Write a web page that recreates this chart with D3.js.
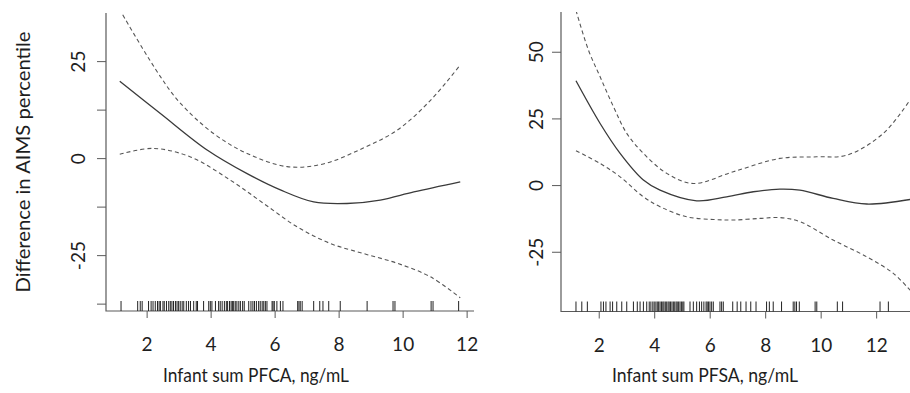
<!DOCTYPE html>
<html>
<head>
<meta charset="utf-8">
<script src="https://cdn.jsdelivr.net/npm/d3@7"></script>
<style>
  body { margin: 0; background: #fff; }
  svg { display: block; font-family: Lato, "Open Sans", sans-serif; }
</style>
</head>
<body>
<svg id="chart"></svg>
<script>
// ---- data ----
// left panel: infant sum PFCA
const pfcaFit = [[1.16, 19.8], [2.43, 11.5], [3.89, 2.1], [5.14, -4.0], [6.18, -8.2], [7.22, -11.3],
  [8.26, -11.7], [9.30, -10.8], [10.35, -8.7], [11.8, -6.1]];
const pfcaUpper = [[1.16, 38.5], [1.23, 37.3], [2.43, 21.0], [3.05, 14.2], [4.08, 6.4], [5.14, 1.2],
  [6.39, -2.2], [7.52, -1.5], [8.77, 2.6], [9.83, 7.2], [10.87, 14.9], [11.8, 24.0]];
const pfcaLower = [[1.16, 1.0], [2.2, 2.5], [3.37, 0.3], [4.62, -5.7], [5.66, -11.7], [6.70, -17.7],
  [7.74, -22.0], [8.78, -24.6], [9.83, -27.1], [10.87, -30.6], [11.8, -36.0]];
const pfcaRug = [1.20, 1.72, 1.80, 1.86, 2.06, 2.14, 2.20, 2.27, 2.34, 2.39, 2.43, 2.51, 2.55, 2.62,
  2.69, 2.74, 2.79, 2.84, 2.90, 2.95, 3.00, 3.05, 3.11, 3.16, 3.24, 3.31, 3.37, 3.47, 3.55, 3.59,
  3.78, 3.94, 3.99, 4.04, 4.15, 4.25, 4.30, 4.36, 4.43, 4.49, 4.53, 4.59, 4.64, 4.68, 4.72, 4.77,
  4.82, 4.88, 4.93, 5.00, 5.05, 5.19, 5.26, 5.32, 5.37, 5.43, 5.50, 5.55, 5.61, 5.66, 5.71, 5.76,
  5.92, 5.95, 5.99, 6.07, 6.18, 6.26, 6.72, 6.76, 6.80, 6.86, 7.22, 7.41, 7.51, 7.69, 8.05, 8.89,
  9.70, 9.76, 10.89, 10.95, 11.75];

// right panel: infant sum PFSA
const pfsaFit = [[1.18, 39.1], [2.05, 23.1], [2.77, 11.9], [3.61, 1.9], [4.21, -1.9], [5.53, -5.9],
  [6.61, -4.4], [7.57, -2.5], [8.53, -1.5], [9.25, -1.9], [10.45, -5.0], [11.66, -7.1], [13.22, -5.4]];
const pfsaUpper = [[1.18, 65.5], [1.63, 50.6], [2.05, 40.6], [2.53, 29.4], [3.01, 19.4], [3.61, 11.9],
  [4.45, 4.4], [5.41, 0.6], [6.85, 5.0], [8.53, 10.0], [9.86, 10.6], [10.94, 11.2], [12.26, 19.4], [13.22, 31.9]];
const pfsaLower = [[1.18, 12.9], [2.05, 8.1], [2.77, 3.1], [3.61, -4.4], [4.21, -8.1], [5.17, -11.9],
  [6.13, -12.9], [6.85, -13.1], [7.81, -12.5], [8.53, -12.2], [9.25, -13.7], [10.45, -20.6],
  [11.66, -26.9], [12.62, -33.1], [13.22, -39.4]];
const pfsaRug = [1.18, 1.39, 1.59, 2.08, 2.17, 2.26, 2.41, 2.50, 2.65, 2.83, 3.01, 3.25, 3.39, 3.49,
  3.61, 3.73, 3.82, 3.88, 3.95, 4.00, 4.06, 4.11, 4.16, 4.21, 4.26, 4.31, 4.35, 4.40, 4.45, 4.50,
  4.54, 4.59, 4.64, 4.69, 4.74, 4.79, 4.83, 4.88, 4.93, 4.98, 5.03, 5.07, 5.29, 5.41, 5.53, 5.63,
  5.71, 5.79, 5.87, 5.91, 5.96, 6.01, 6.07, 6.13, 6.37, 6.43, 6.49, 6.83, 6.99, 7.12, 7.31, 7.48,
  7.67, 8.05, 8.15, 8.29, 8.59, 9.01, 9.07, 9.13, 9.23, 9.80, 9.86, 10.60, 10.79, 12.14, 12.44];

const xTicks = [2, 4, 6, 8, 10, 12];
const pfcaYTicks = [-37.5, -25, -12.5, 0, 12.5, 25];
const pfcaYLabels = [-25, 0, 25];
const pfsaYTicks = [-25, 0, 25, 50];
const pfsaYLabels = [-25, 0, 25, 50];

const yTitle = "Difference in AIMS percentile";
const pfcaTitle = "Infant sum PFCA, ng/mL";
const pfsaTitle = "Infant sum PFSA, ng/mL";

// ---- drawing ----
const width = 910;
const height = 393;

const svg = d3.select("#chart")
  .attr("width", width)
  .attr("height", height);

const axisColor = "#5a5a5a";
const textColor = "#1e1e1e";

function drawPanel(p) {
  const x = d3.scaleLinear().domain(p.xDomain).range([p.left, p.right]);
  const y = d3.scaleLinear().domain(p.yDomain).range([p.bottom, p.top]);
  const g = svg.append("g");

  g.append("clipPath").attr("id", p.id)
    .append("rect")
    .attr("x", p.left).attr("y", p.top)
    .attr("width", p.right - p.left).attr("height", p.bottom - p.top);

  // x axis ticks
  const gx = g.append("g")
    .attr("transform", `translate(0,${p.bottom})`)
    .call(d3.axisBottom(x).tickValues(xTicks).tickSize(7).tickFormat(d => String(d)));
  gx.select(".domain").remove();
  gx.selectAll("line").attr("stroke", axisColor);
  gx.selectAll("text")
    .attr("y", 27)
    .attr("fill", textColor)
    .style("font-size", "19px")
    .style("font-family", "Lato, sans-serif");

  // y axis ticks, labels turned like base R (plain hyphen minus)
  const gy = g.append("g")
    .attr("transform", `translate(${p.left},0)`)
    .call(d3.axisLeft(y).tickValues(p.yTicks).tickSize(9)
      .tickFormat(d => p.yLabels.includes(d) ? String(d) : ""));
  gy.select(".domain").remove();
  gy.selectAll("line").attr("stroke", axisColor);
  gy.selectAll("text")
    .attr("transform", "rotate(-90)")
    .attr("x", 0)
    .attr("y", -p.yLabelOffset)
    .attr("dy", "0.36em")
    .attr("text-anchor", "middle")
    .attr("fill", textColor)
    .style("font-size", "19px")
    .style("font-family", "Lato, sans-serif");

  // L shaped box
  g.append("path")
    .attr("d", `M${p.left},${p.top}V${p.bottom}H${p.right}`)
    .attr("fill", "none")
    .attr("stroke", axisColor)
    .attr("stroke-width", 1.2);

  // rug
  g.append("g").selectAll("line")
    .data(p.rug)
    .enter().append("line")
    .attr("x1", d => x(d)).attr("x2", d => x(d))
    .attr("y1", p.bottom - 10).attr("y2", p.bottom)
    .attr("stroke", "#222")
    .attr("stroke-width", 1);

  const line = d3.line()
    .x(d => x(d[0]))
    .y(d => y(d[1]))
    .curve(d3.curveCatmullRom.alpha(0.5));

  const curves = g.append("g").attr("clip-path", `url(#${p.id})`);
  [p.upper, p.lower].forEach(band => {
    curves.append("path")
      .attr("d", line(band))
      .attr("fill", "none")
      .attr("stroke", "#555")
      .attr("stroke-width", 1.1)
      .attr("stroke-dasharray", "4,3");
  });
  curves.append("path")
    .attr("d", line(p.fit))
    .attr("fill", "none")
    .attr("stroke", "#3a3a3a")
    .attr("stroke-width", 1.3);

  // x title, squeezed to the width of the original's narrower face
  g.append("text")
    .attr("x", p.titleX)
    .attr("y", 382)
    .attr("text-anchor", "middle")
    .attr("fill", textColor)
    .attr("textLength", 186)
    .attr("lengthAdjust", "spacingAndGlyphs")
    .style("font-size", "19px")
    .text(p.title);
}

drawPanel({
  id: "clip-pfca",
  left: 106, right: 474, top: 13, bottom: 311,
  xDomain: [0.73, 12.23], yDomain: [-39.4, 37.4],
  yTicks: pfcaYTicks, yLabels: pfcaYLabels, yLabelOffset: 27.5,
  fit: pfcaFit, upper: pfcaUpper, lower: pfcaLower, rug: pfcaRug,
  title: pfcaTitle, titleX: 256
});

drawPanel({
  id: "clip-pfsa",
  left: 561, right: 910, top: 12, bottom: 311.5,
  xDomain: [0.64, 13.22], yDomain: [-47.4, 64.9],
  yTicks: pfsaYTicks, yLabels: pfsaYLabels, yLabelOffset: 25,
  fit: pfsaFit, upper: pfsaUpper, lower: pfsaLower, rug: pfsaRug,
  title: pfsaTitle, titleX: 705
});

// shared y title
svg.append("text")
  .attr("transform", "translate(23,162) rotate(-90)")
  .attr("dy", "0.36em")
  .attr("text-anchor", "middle")
  .attr("fill", textColor)
  .attr("textLength", 261)
  .attr("lengthAdjust", "spacingAndGlyphs")
  .style("font-size", "19.5px")
  .text(yTitle);
</script>
</body>
</html>
